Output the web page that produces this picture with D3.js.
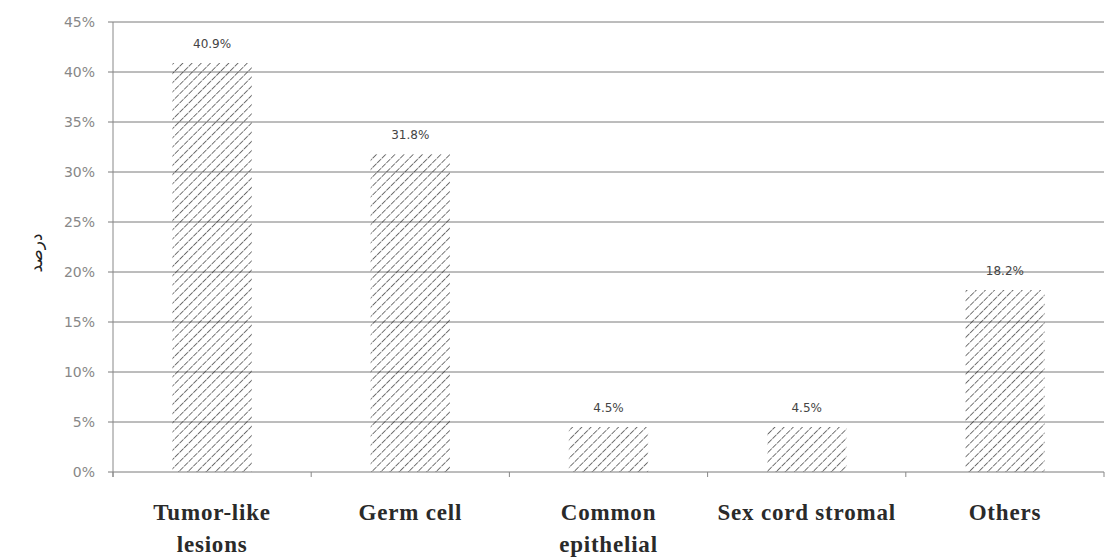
<!DOCTYPE html>
<html>
<head>
<meta charset="utf-8">
<script src="https://cdn.jsdelivr.net/npm/d3@7"></script>
<style>
  body { margin: 0; background: #fff; }
  svg { display: block; }
</style>
</head>
<body>
<div id="chart"></div>
<script>
const categories = [["Tumor-like", "lesions"], ["Germ cell"], ["Common", "epithelial"], ["Sex cord stromal"], ["Others"]];
const values = [40.9, 31.8, 4.5, 4.5, 18.2];
const valueLabels = ["40.9%", "31.8%", "4.5%", "4.5%", "18.2%"];
const yTicks = [0, 5, 10, 15, 20, 25, 30, 35, 40, 45];

const width = 1109;
const height = 559;
const margin = { top: 22, right: 5, bottom: 87, left: 113 };
const innerW = width - margin.left - margin.right;
const innerH = height - margin.top - margin.bottom;

const svg = d3.select("#chart")
  .append("svg")
  .attr("width", width)
  .attr("height", height);

// hatch fill
const defs = svg.append("defs");
const pat = defs.append("pattern")
  .attr("id", "hatch")
  .attr("patternUnits", "userSpaceOnUse")
  .attr("width", 6.5)
  .attr("height", 6.5)
  .attr("patternTransform", "rotate(45)");
pat.append("line")
  .attr("x1", 0).attr("y1", 0)
  .attr("x2", 0).attr("y2", 6.5)
  .attr("stroke", "#2a2a2a")
  .attr("stroke-width", 1.3)
  .attr("stroke-dasharray", "4,0.8");

const g = svg.append("g")
  .attr("transform", `translate(${margin.left},${margin.top})`);

const x = d3.scaleBand()
  .domain(d3.range(categories.length))
  .range([0, innerW])
  .paddingInner(0.6)
  .paddingOuter(0.3);

const y = d3.scaleLinear()
  .domain([0, 45])
  .range([innerH, 0]);

// gridlines + y tick labels
g.append("g")
  .selectAll("line")
  .data(yTicks)
  .join("line")
  .attr("x1", -5)
  .attr("x2", innerW)
  .attr("y1", (d) => y(d))
  .attr("y2", (d) => y(d))
  .attr("stroke", "#7a7a7a")
  .attr("stroke-width", 1);

g.append("g")
  .selectAll("text")
  .data(yTicks)
  .join("text")
  .attr("x", -18)
  .attr("y", (d) => y(d))
  .attr("dy", "0.35em")
  .attr("text-anchor", "end")
  .attr("font-family", "DejaVu Sans, sans-serif")
  .attr("font-size", 14)
  .attr("fill", "#888")
  .text((d) => d + "%");

// y axis line
g.append("line")
  .attr("x1", 0).attr("x2", 0)
  .attr("y1", y(45)).attr("y2", innerH + 5)
  .attr("stroke", "#888");

// x axis ticks at category boundaries
const step = innerW / categories.length;
g.append("g")
  .selectAll("line")
  .data(d3.range(categories.length + 1))
  .join("line")
  .attr("x1", (d) => d * step)
  .attr("x2", (d) => d * step)
  .attr("y1", innerH)
  .attr("y2", innerH + 5)
  .attr("stroke", "#888");

// bars
g.append("g")
  .selectAll("rect")
  .data(values)
  .join("rect")
  .attr("x", (d, i) => x(i))
  .attr("y", (d) => y(d))
  .attr("width", x.bandwidth())
  .attr("height", (d) => innerH - y(d))
  .attr("fill", "url(#hatch)");

// value labels
g.append("g")
  .selectAll("text")
  .data(values)
  .join("text")
  .attr("x", (d, i) => x(i) + x.bandwidth() / 2)
  .attr("y", (d) => y(d) - 15)
  .attr("text-anchor", "middle")
  .attr("font-family", "DejaVu Sans, sans-serif")
  .attr("font-size", 12)
  .attr("fill", "#444")
  .text((d, i) => valueLabels[i]);

// category labels
const catG = g.append("g")
  .selectAll("text")
  .data(categories)
  .join("text")
  .attr("x", (d, i) => x(i) + x.bandwidth() / 2)
  .attr("y", innerH + 48)
  .attr("text-anchor", "middle")
  .attr("font-family", "Liberation Serif, Times New Roman, serif")
  .attr("font-weight", "bold")
  .attr("font-size", 23)
  .attr("letter-spacing", 0.8)
  .attr("fill", "#2a2a2a");

catG.selectAll("tspan")
  .data((d) => d)
  .join("tspan")
  .attr("x", function () { return d3.select(this.parentNode).attr("x"); })
  .attr("dy", (d, i) => (i === 0 ? 0 : 32))
  .text((d) => d);

// y axis title (Persian)
svg.append("text")
  .attr("transform", "translate(42,253) rotate(-90)")
  .attr("text-anchor", "middle")
  .attr("font-family", "DejaVu Sans, sans-serif")
  .attr("font-size", 17)
  .attr("fill", "#222")
  .text("درصد");
</script>
</body>
</html>
